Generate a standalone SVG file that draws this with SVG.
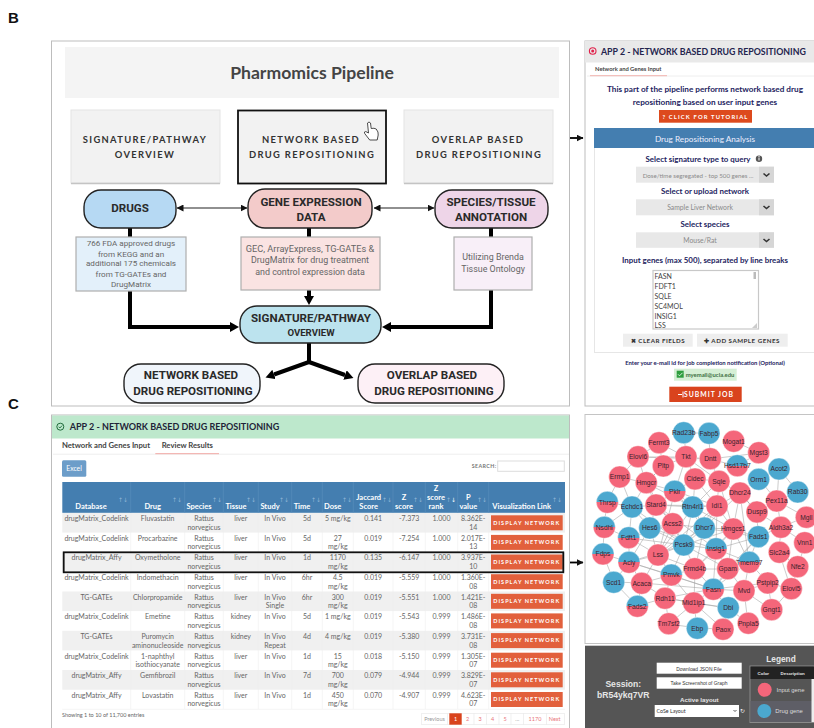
<svg xmlns="http://www.w3.org/2000/svg" width="814" height="728" viewBox="0 0 814 728">
<style>
text{font-family:"Lato","Liberation Sans",sans-serif}
.card{fill:#f2f2f2}
.ct{font-weight:700;font-size:9.400px;letter-spacing:1.350px;fill:#333;text-anchor:middle}
.pill{stroke:#222;stroke-width:1.4}
.pt{font-family:"Roboto","Liberation Sans",sans-serif;font-weight:700;font-size:11.6px;fill:#2a2a2a;text-anchor:middle}
.bx{stroke:#aeaeae;stroke-width:1.2}
.bt{font-family:"Roboto","Liberation Sans",sans-serif;font-size:8.9px;fill:#666;text-anchor:middle}
.thick{fill:none;stroke:#000;stroke-width:4}
.thin{fill:none;stroke:#222;stroke-width:1.2}
.nv{font-weight:700;fill:#23235e;text-anchor:middle}
.sel{fill:#e8e8e8}.chv{fill:#d6d6d6}
.chk{fill:none;stroke:#333;stroke-width:1.6}
.st{font-size:6.8px;fill:#8a8a8a;text-anchor:middle}
.gn{font-size:7px;fill:#444}
.btn{fill:#eee}
.bn{font-size:6.200px;font-weight:700;letter-spacing:.5px;fill:#333;text-anchor:middle}
.th{font-size:7.500px;font-weight:700;fill:#fff;text-anchor:middle}
.ar{font-size:6px;fill:#8fb4d6;font-family:"DejaVu Sans",sans-serif}
.td{font-size:7px;fill:#666;text-anchor:middle}
.dn{fill:#e2603c}
.dt{font-size:5.5px;font-weight:700;letter-spacing:1.05px;fill:#fff;text-anchor:middle}
.pg{font-size:5.5px;fill:#e8747a;text-anchor:middle}
.pb{fill:#fff;stroke:#e6e6e6;stroke-width:.6}
.e{fill:none;stroke:#a2a2a2;stroke-width:.55}
.n circle{stroke:#fff;stroke-width:.4}
.p{fill:#f4667a}.b{fill:#4ba8cf}.h{fill:url(#hh)}
.n text{font-family:"Liberation Sans",sans-serif;font-size:6.7px;fill:#3b1f2c;text-anchor:middle}
.lb{font-family:"Liberation Sans",sans-serif;font-weight:700;font-size:15px;fill:#111}
.wb{fill:#fff}
.bk{font-family:"Liberation Sans",sans-serif;font-size:4.900px;fill:#333;text-anchor:middle}
.lt{font-family:"Liberation Sans",sans-serif;font-weight:700;fill:#e6e6e6;text-anchor:middle}
.lg{font-family:"Liberation Sans",sans-serif;font-size:5.900px;fill:#ddd;text-anchor:middle}
</style>
<defs>
<linearGradient id="hh" x1="0" y1="0" x2="0" y2="1"><stop offset=".5" stop-color="#4ba8cf"/><stop offset=".5" stop-color="#f4667a"/></linearGradient>
<marker id="big" markerUnits="userSpaceOnUse" markerWidth="9" markerHeight="10" refX="0" refY="5" orient="auto"><path d="M0,0L9,5L0,10z" fill="#000"/></marker>
<marker id="sm" markerUnits="userSpaceOnUse" markerWidth="7" markerHeight="7" refX="6.500" refY="3.500" orient="auto-start-reverse"><path d="M0,0L7,3.500L0,7z" fill="#111"/></marker>
</defs>
<rect width="814" height="728" fill="#fff"/>
<text class="lb" x="8" y="23">B</text>
<text class="lb" x="8" y="409">C</text>

<g id="frame-b"><rect x="51.5" y="41" width="518" height="365" fill="#fff" stroke="#bdbdbd" stroke-width="1"/></g>
<g id="title"><rect x="65" y="47" width="494" height="51" fill="#f4f4f4"/><text x="312" y="79" text-anchor="middle" font-size="17.600" font-weight="700" fill="#444">Pharmomics Pipeline</text></g>
<g id="card-signature"><rect class="card" x="71" y="110" width="149" height="73" style="stroke:#e4e4e4;stroke-width:1"/><path d="M71,183.5H220" stroke="#c4c4c4" stroke-width="1.5"/><text class="ct" x="145" y="143">SIGNATURE/PATHWAY</text><text class="ct" x="145" y="158">OVERVIEW</text></g>
<g id="card-network"><rect class="card" x="238" y="110.5" width="148" height="73" stroke="#111" stroke-width="1.8"/><text class="ct" x="311" y="143">NETWORK BASED</text><text class="ct" x="312" y="158">DRUG REPOSITIONING</text>
<path d="M367.500,123q1.500-2 3,0l.7,5.500q3-.7 5,.5q2.500,3 2,6l-1,5h-7.500l-5-6.500q-1-2 1-2l2.800,1.500z" fill="#fff" stroke="#222" stroke-width=".8"/></g>
<g id="card-overlap"><rect class="card" x="404" y="110" width="149" height="73" style="stroke:#e4e4e4;stroke-width:1"/><path d="M404,183.500H553" stroke="#c4c4c4" stroke-width="1.500"/><text class="ct" x="478" y="143">OVERLAP BASED</text><text class="ct" x="479" y="158">DRUG REPOSITIONING</text></g>

<g id="connectors">
<path class="thin" d="M177,208H247" marker-start="url(#sm)" marker-end="url(#sm)"/>
<path class="thin" d="M374,208H434" marker-start="url(#sm)" marker-end="url(#sm)"/>
<path class="thick" d="M130,228V238M309,228V238M491,228V238"/>
<path class="thick" d="M130,291V327H230" marker-end="url(#big)"/>
<path class="thick" d="M491,290V327H391" marker-end="url(#big)"/>
<path class="thick" d="M309,290V296" marker-end="url(#big)"/>
<path class="thick" d="M309,343V362L274,374.500" marker-end="url(#big)"/>
<path class="thick" d="M309,362L345,375" marker-end="url(#big)"/>
<path d="M570,138H583" stroke="#000" stroke-width="1.800" marker-end="url(#sm)"/>
<path d="M563,562.500H583" stroke="#000" stroke-width="1.800" marker-end="url(#sm)"/>
</g>

<g id="drugs"><rect class="pill" x="84" y="190" width="92" height="38" rx="17" fill="#b6d9f3"/><text class="pt" x="130" y="212">DRUGS</text></g>
<g id="gene-expression"><rect class="pill" x="248" y="189" width="124" height="39" rx="17" fill="#f3cbca"/><text class="pt" x="311" y="206">GENE EXPRESSION</text><text class="pt" x="311" y="221">DATA</text></g>
<g id="species-tissue"><rect class="pill" x="435" y="190" width="113" height="38" rx="17" fill="#eed5e8"/><text class="pt" x="491" y="206">SPECIES/TISSUE</text><text class="pt" x="491" y="221">ANNOTATION</text></g>
<g id="drugs-note"><rect class="bx" x="76" y="237" width="110" height="54" fill="#e3f0fa"/><text class="bt" x="131" y="246" style="font-size:8.100px">766 FDA approved drugs</text><text class="bt" x="131" y="257" style="font-size:8.100px">from KEGG and an</text><text class="bt" x="131" y="266" style="font-size:8.100px">additional 175 chemicals</text><text class="bt" x="131" y="276.500" style="font-size:8.100px">from TG-GATEs and</text><text class="bt" x="131" y="287" style="font-size:8.100px">DrugMatrix</text></g>
<g id="gene-note"><rect class="bx" x="241" y="237" width="139" height="53" fill="#fae3e2"/><text class="bt" x="310" y="252" style="font-size:9.200px">GEC, ArrayExpress, TG-GATEs &amp;</text><text class="bt" x="310" y="263">DrugMatrix for drug treatment</text><text class="bt" x="310" y="275">and control expression data</text></g>
<g id="tissue-note"><rect class="bx" x="454" y="237" width="78" height="53" fill="#f8eff8"/><text class="bt" x="493" y="260">Utilizing Brenda</text><text class="bt" x="493" y="272">Tissue Ontology</text></g>
<g id="signature-pill"><rect class="pill" x="240" y="306" width="141" height="37" rx="17" fill="#bce3ee"/><text class="pt" x="311" y="322">SIGNATURE/PATHWAY</text><text class="pt" x="311" y="336" style="font-size:9.600px">OVERVIEW</text></g>
<g id="network-pill"><rect class="pill" x="124" y="364" width="136" height="39" rx="17" fill="#f0f5fb"/><text class="pt" x="191" y="379">NETWORK BASED</text><text class="pt" x="193" y="395">DRUG REPOSITIONING</text></g>
<g id="overlap-pill"><rect class="pill" x="358" y="364" width="146" height="39" rx="17" fill="#fdf0f6"/><text class="pt" x="432" y="379">OVERLAP BASED</text><text class="pt" x="434" y="395">DRUG REPOSITIONING</text></g>

<g id="app-input">
<rect x="585" y="41" width="232" height="365" fill="#fff" stroke="#bdbdbd"/>
<rect x="585" y="41" width="229" height="21.500" fill="#e9e9e9"/>
<circle cx="592.700" cy="51" r="3.300" fill="none" stroke="#e0204a" stroke-width="1.100"/><circle cx="592.700" cy="51" r="1.500" fill="#e0204a"/>
<text x="601" y="54.500" font-size="8.800" font-weight="700" fill="#24244e">APP 2 - NETWORK BASED DRUG REPOSITIONING</text>
<text x="595" y="70.500" font-size="5.800" font-weight="700" fill="#444">Network and Genes Input</text>
<path d="M587,76H814" stroke="#eee"/><path d="M590,75.700H667" stroke="#f2b3ae"/>
<text class="nv" x="705" y="92" font-size="8.200">This part of the pipeline performs network based drug</text>
<text class="nv" x="705" y="105" font-size="8.200">repositioning based on user input genes</text>
<rect x="659" y="110" width="93" height="12.700" fill="#dd4a1d"/><text x="705.500" y="119" text-anchor="middle" font-size="5.800" font-weight="700" letter-spacing="1.150" fill="#fff">? CLICK FOR TUTORIAL</text>
<rect x="594.500" y="128.500" width="225" height="224" fill="#fff" stroke="#e6e6e6"/>
<rect x="594" y="128" width="220" height="20" fill="#447eb0"/><text x="705" y="141.500" text-anchor="middle" font-size="8.200" fill="#eef">Drug Repositioning Analysis</text>
<text class="nv" x="698" y="161.700" font-size="7.900">Select signature type to query</text>
<circle cx="759" cy="158.700" r="3.200" fill="#555"/><rect x="758.500" y="157.500" width="1" height="3" fill="#fff"/><rect x="758.500" y="156" width="1" height="1" fill="#fff"/>
<rect class="sel" x="636" y="166.700" width="138" height="16"/><rect class="chv" x="759" y="166.700" width="15" height="16"/><path class="chk" d="M763.500,173.500l3,2.500l3-2.500"/>
<text class="st" x="698" y="177.500" style="font-size:6.200px">Dose/time segregated - top 500 genes ...</text>
<text class="nv" x="705" y="194" font-size="7.900">Select or upload network</text>
<rect class="sel" x="636" y="199.300" width="138" height="16"/><rect class="chv" x="759" y="199.300" width="15" height="16"/><path class="chk" d="M763.500,206l3,2.500l3-2.500"/>
<text class="st" x="700" y="210">Sample Liver Network</text>
<text class="nv" x="705" y="227" font-size="7.900">Select species</text>
<rect class="sel" x="636" y="232.300" width="138" height="15.500"/><rect class="chv" x="759" y="232.300" width="15" height="15.500"/><path class="chk" d="M763.500,239l3,2.500l3-2.500"/>
<text class="st" x="700" y="243">Mouse/Rat</text>
<text class="nv" x="705" y="262.700" font-size="7.900">Input genes (max 500), separated by line breaks</text>
<rect x="653" y="270.500" width="105.500" height="58.500" fill="#fff" stroke="#c8c8c8" stroke-width="1.200"/>
<text class="gn" x="654.500" y="278.500">FASN</text><text class="gn" x="654.500" y="288.500">FDFT1</text><text class="gn" x="654.500" y="298.500">SQLE</text><text class="gn" x="654.500" y="308.500">SC4MOL</text><text class="gn" x="654.500" y="318.500">INSIG1</text><text class="gn" x="654.500" y="328">LSS</text>
<rect x="753.500" y="272" width="2.500" height="7" fill="#bbb"/><path d="M752,328L757,323V328z" fill="#ccc"/>
<rect class="btn" x="623" y="333.700" width="69.700" height="13"/><text class="bn" x="658" y="342.500">✖ CLEAR FIELDS</text>
<rect class="btn" x="697" y="333.700" width="90.700" height="13"/><text class="bn" x="742" y="342.500">✚ ADD SAMPLE GENES</text>
<text class="nv" x="705" y="365.300" font-size="5.900">Enter your e-mail id for job completion notification (Optional)</text>
<rect x="674" y="368.700" width="62.700" height="12" fill="#d5efd5"/><rect x="676.700" y="370.700" width="7" height="7" fill="#2e9e3e"/><path d="M678,374.300l1.500,1.500l3-3" fill="none" stroke="#fff" stroke-width=".8"/>
<text x="685.700" y="376.500" font-size="5.900" font-weight="700" fill="#3f7043">myemail@ucla.edu</text>
<rect x="669.300" y="386.700" width="72.400" height="15.300" fill="#d9431d"/><path d="M678,394.500h4M683,391.500v6" stroke="#fff" stroke-width="1"/><text x="684" y="397.300" font-size="6.800" font-weight="700" letter-spacing="1" fill="#fff">SUBMIT JOB</text>
</g>

<g id="app-results">
<rect x="51.500" y="415" width="518" height="320" fill="#fff" stroke="#bdbdbd"/>
<rect x="52" y="415.500" width="517" height="23" fill="#bde8cc"/>
<circle cx="60.300" cy="426.700" r="3.500" fill="none" stroke="#1f6b3a" stroke-width="1"/><path d="M58.600,426.700l1.300,1.300l2.200-2.400" fill="none" stroke="#1f6b3a" stroke-width=".9"/>
<text x="69.700" y="429.500" font-size="9" font-weight="700" fill="#1f2438">APP 2 - NETWORK BASED DRUG REPOSITIONING</text>
<text x="62" y="448" font-size="7.700" font-weight="700" fill="#444">Network and Genes Input</text>
<text x="161.700" y="448" font-size="7.700" font-weight="700" fill="#444">Review Results</text>
<path d="M53,454.200H569" stroke="#eee"/><path d="M155.300,453.700H219" stroke="#f2a8a4"/>
<rect x="62" y="460.300" width="24.300" height="16.400" rx="1.500" fill="#6c9dc9"/><text x="74" y="471" text-anchor="middle" font-size="6.800" fill="#fff">Excel</text>
<text x="471.700" y="468" font-size="5.300" font-weight="700" letter-spacing=".4" fill="#777">SEARCH:</text>
<rect x="497.700" y="461" width="66.600" height="10.300" fill="#fff" stroke="#ddd"/>
<rect x="62.300" y="482" width="502.700" height="30.800" fill="#447eb0"/>
<path d="M130.700,482V512.800M184.700,482V512.800M223.300,482V512.800M258.300,482V512.800M291.700,482V512.800M322.300,482V512.800M353.300,482V512.800M393,482V512.800M425.300,482V512.800M457.700,482V512.800M488.700,482V512.800" stroke="#5b8fbd" stroke-width=".6"/>
<text class="th" x="91" y="509.300">Database</text><text class="th" x="152.700" y="509.300">Drug</text><text class="th" x="199" y="509.300">Species</text><text class="th" x="236" y="509.300">Tissue</text><text class="th" x="270" y="509.300">Study</text><text class="th" x="302" y="509.300">Time</text><text class="th" x="332.700" y="509.300">Dose</text>
<text class="th" x="368.700" y="499.700">Jaccard</text><text class="th" x="368.700" y="509.300">Score</text><text class="th" x="404" y="499.700">Z</text><text class="th" x="404" y="509.300">score</text><text class="th" x="436" y="491.300">Z</text><text class="th" x="436" y="499.700">score</text><text class="th" x="436" y="509.300">rank</text><text class="th" x="468.300" y="499.700">P</text><text class="th" x="468.300" y="509.300">value</text><text class="th" x="521.700" y="509.300">Visualization Link</text>
<text class="ar" x="118" y="502">↑↓</text><text class="ar" x="172" y="502">↑↓</text><text class="ar" x="212" y="502">↑↓</text><text class="ar" x="246" y="502">↑↓</text><text class="ar" x="279" y="502">↑↓</text><text class="ar" x="311" y="502">↑↓</text><text class="ar" x="342" y="502">↑↓</text><text class="ar" x="382" y="502">↑↓</text><text class="ar" x="413" y="502">↑↓</text><text class="ar" x="446" y="502"><tspan>↑</tspan><tspan fill="#fff">↓</tspan></text><text class="ar" x="477" y="502">↑↓</text><text class="ar" x="552" y="502">↑↓</text>
<g><rect x="62.300" y="513" width="502.700" height="19.600" fill="#f0f0f0"/><rect x="62.300" y="552.200" width="502.700" height="19.700" fill="#f0f0f0"/><rect x="62.300" y="591.500" width="502.700" height="19.600" fill="#f0f0f0"/><rect x="62.300" y="630.800" width="502.700" height="19.600" fill="#f0f0f0"/><rect x="62.300" y="670" width="502.700" height="19.700" fill="#f0f0f0"/><path d="M130.700,513V709M184.700,513V709M223.300,513V709M258.300,513V709M291.700,513V709M322.300,513V709M353.300,513V709M393,513V709M425.300,513V709M457.700,513V709M488.700,513V709M62.300,709.300H565" stroke="#eee" stroke-width=".6"/></g>
<g transform="translate(0,513)"><text class="td" x="96.500" y="8.300">drugMatrix_Codelink</text><text class="td" x="157.700" y="8.300">Fluvastatin</text><text class="td" x="204" y="8.300">Rattus</text><text class="td" x="204" y="16.800">norvegicus</text><text class="td" x="240.800" y="8.300">liver</text><text class="td" x="275" y="8.300">In Vivo</text><text class="td" x="307" y="8.300">5d</text><text class="td" x="337.800" y="8.300">5 mg/kg</text><text class="td" x="373.200" y="8.300">0.141</text><text class="td" x="409.200" y="8.300">-7.373</text><text class="td" x="441.500" y="8.300">1.000</text><text class="td" x="473.200" y="8.300">8.362E-</text><text class="td" x="473.200" y="16.800">14</text><rect class="dn" x="491" y="2.300" width="71.700" height="15"/><text class="dt" x="526.700" y="11.700">DISPLAY NETWORK</text></g>
<g transform="translate(0,532.600)"><text class="td" x="96.500" y="8.300">drugMatrix_Codelink</text><text class="td" x="157.700" y="8.300">Procarbazine</text><text class="td" x="204" y="8.300">Rattus</text><text class="td" x="204" y="16.800">norvegicus</text><text class="td" x="240.800" y="8.300">liver</text><text class="td" x="275" y="8.300">In Vivo</text><text class="td" x="307" y="8.300">5d</text><text class="td" x="337.800" y="8.300">27</text><text class="td" x="337.800" y="16.800">mg/kg</text><text class="td" x="373.200" y="8.300">0.019</text><text class="td" x="409.200" y="8.300">-7.254</text><text class="td" x="441.500" y="8.300">1.000</text><text class="td" x="473.200" y="8.300">2.017E-</text><text class="td" x="473.200" y="16.800">13</text><rect class="dn" x="491" y="2.300" width="71.700" height="15"/><text class="dt" x="526.700" y="11.700">DISPLAY NETWORK</text></g>
<g transform="translate(0,552.200)"><text class="td" x="96.500" y="8.300">drugMatrix_Affy</text><text class="td" x="157.700" y="8.300">Oxymetholone</text><text class="td" x="204" y="8.300">Rattus</text><text class="td" x="204" y="16.800">norvegicus</text><text class="td" x="240.800" y="8.300">liver</text><text class="td" x="275" y="8.300">In Vivo</text><text class="td" x="307" y="8.300">1d</text><text class="td" x="337.800" y="8.300">1170</text><text class="td" x="337.800" y="16.800">mg/kg</text><text class="td" x="373.200" y="8.300">0.135</text><text class="td" x="409.200" y="8.300">-6.147</text><text class="td" x="441.500" y="8.300">1.000</text><text class="td" x="473.200" y="8.300">3.937E-</text><text class="td" x="473.200" y="16.800">10</text><rect class="dn" x="491" y="2.300" width="71.700" height="15"/><text class="dt" x="526.700" y="11.700">DISPLAY NETWORK</text></g>
<g transform="translate(0,571.900)"><text class="td" x="96.500" y="8.300">drugMatrix_Codelink</text><text class="td" x="157.700" y="8.300">Indomethacin</text><text class="td" x="204" y="8.300">Rattus</text><text class="td" x="204" y="16.800">norvegicus</text><text class="td" x="240.800" y="8.300">liver</text><text class="td" x="275" y="8.300">In Vivo</text><text class="td" x="307" y="8.300">6hr</text><text class="td" x="337.800" y="8.300">4.5</text><text class="td" x="337.800" y="16.800">mg/kg</text><text class="td" x="373.200" y="8.300">0.019</text><text class="td" x="409.200" y="8.300">-5.559</text><text class="td" x="441.500" y="8.300">1.000</text><text class="td" x="473.200" y="8.300">1.360E-</text><text class="td" x="473.200" y="16.800">08</text><rect class="dn" x="491" y="2.300" width="71.700" height="15"/><text class="dt" x="526.700" y="11.700">DISPLAY NETWORK</text></g>
<g transform="translate(0,591.500)"><text class="td" x="96.500" y="8.300">TG-GATEs</text><text class="td" x="157.700" y="8.300">Chlorpropamide</text><text class="td" x="204" y="8.300">Rattus</text><text class="td" x="204" y="16.800">norvegicus</text><text class="td" x="240.800" y="8.300">liver</text><text class="td" x="275" y="8.300">In Vivo</text><text class="td" x="275" y="16.800">Single</text><text class="td" x="307" y="8.300">6hr</text><text class="td" x="337.800" y="8.300">300</text><text class="td" x="337.800" y="16.800">mg/kg</text><text class="td" x="373.200" y="8.300">0.019</text><text class="td" x="409.200" y="8.300">-5.551</text><text class="td" x="441.500" y="8.300">1.000</text><text class="td" x="473.200" y="8.300">1.421E-</text><text class="td" x="473.200" y="16.800">08</text><rect class="dn" x="491" y="2.300" width="71.700" height="15"/><text class="dt" x="526.700" y="11.700">DISPLAY NETWORK</text></g>
<g transform="translate(0,611.100)"><text class="td" x="96.500" y="8.300">drugMatrix_Codelink</text><text class="td" x="157.700" y="8.300">Emetine</text><text class="td" x="204" y="8.300">Rattus</text><text class="td" x="204" y="16.800">norvegicus</text><text class="td" x="240.800" y="8.300">kidney</text><text class="td" x="275" y="8.300">In Vivo</text><text class="td" x="307" y="8.300">5d</text><text class="td" x="337.800" y="8.300">1 mg/kg</text><text class="td" x="373.200" y="8.300">0.019</text><text class="td" x="409.200" y="8.300">-5.543</text><text class="td" x="441.500" y="8.300">0.999</text><text class="td" x="473.200" y="8.300">1.486E-</text><text class="td" x="473.200" y="16.800">08</text><rect class="dn" x="491" y="2.300" width="71.700" height="15"/><text class="dt" x="526.700" y="11.700">DISPLAY NETWORK</text></g>
<g transform="translate(0,630.800)"><text class="td" x="96.500" y="8.300">TG-GATEs</text><text class="td" x="157.700" y="8.300">Puromycin</text><text class="td" x="157.700" y="16.800">aminonucleoside</text><text class="td" x="204" y="8.300">Rattus</text><text class="td" x="204" y="16.800">norvegicus</text><text class="td" x="240.800" y="8.300">kidney</text><text class="td" x="275" y="8.300">In Vivo</text><text class="td" x="275" y="16.800">Repeat</text><text class="td" x="307" y="8.300">4d</text><text class="td" x="337.800" y="8.300">4 mg/kg</text><text class="td" x="373.200" y="8.300">0.019</text><text class="td" x="409.200" y="8.300">-5.380</text><text class="td" x="441.500" y="8.300">0.999</text><text class="td" x="473.200" y="8.300">3.731E-</text><text class="td" x="473.200" y="16.800">08</text><rect class="dn" x="491" y="2.300" width="71.700" height="15"/><text class="dt" x="526.700" y="11.700">DISPLAY NETWORK</text></g>
<g transform="translate(0,650.400)"><text class="td" x="96.500" y="8.300">drugMatrix_Codelink</text><text class="td" x="157.700" y="8.300">1-naphthyl</text><text class="td" x="157.700" y="16.800">isothiocyanate</text><text class="td" x="204" y="8.300">Rattus</text><text class="td" x="204" y="16.800">norvegicus</text><text class="td" x="240.800" y="8.300">liver</text><text class="td" x="275" y="8.300">In Vivo</text><text class="td" x="307" y="8.300">1d</text><text class="td" x="337.800" y="8.300">15</text><text class="td" x="337.800" y="16.800">mg/kg</text><text class="td" x="373.200" y="8.300">0.018</text><text class="td" x="409.200" y="8.300">-5.150</text><text class="td" x="441.500" y="8.300">0.999</text><text class="td" x="473.200" y="8.300">1.305E-</text><text class="td" x="473.200" y="16.800">07</text><rect class="dn" x="491" y="2.300" width="71.700" height="15"/><text class="dt" x="526.700" y="11.700">DISPLAY NETWORK</text></g>
<g transform="translate(0,670)"><text class="td" x="96.500" y="8.300">drugMatrix_Affy</text><text class="td" x="157.700" y="8.300">Gemfibrozil</text><text class="td" x="204" y="8.300">Rattus</text><text class="td" x="204" y="16.800">norvegicus</text><text class="td" x="240.800" y="8.300">liver</text><text class="td" x="275" y="8.300">In Vivo</text><text class="td" x="307" y="8.300">7d</text><text class="td" x="337.800" y="8.300">700</text><text class="td" x="337.800" y="16.800">mg/kg</text><text class="td" x="373.200" y="8.300">0.079</text><text class="td" x="409.200" y="8.300">-4.944</text><text class="td" x="441.500" y="8.300">0.999</text><text class="td" x="473.200" y="8.300">3.829E-</text><text class="td" x="473.200" y="16.800">07</text><rect class="dn" x="491" y="2.300" width="71.700" height="15"/><text class="dt" x="526.700" y="11.700">DISPLAY NETWORK</text></g>
<g transform="translate(0,689.700)"><text class="td" x="96.500" y="8.300">drugMatrix_Affy</text><text class="td" x="157.700" y="8.300">Lovastatin</text><text class="td" x="204" y="8.300">Rattus</text><text class="td" x="204" y="16.800">norvegicus</text><text class="td" x="240.800" y="8.300">liver</text><text class="td" x="275" y="8.300">In Vivo</text><text class="td" x="307" y="8.300">1d</text><text class="td" x="337.800" y="8.300">450</text><text class="td" x="337.800" y="16.800">mg/kg</text><text class="td" x="373.200" y="8.300">0.070</text><text class="td" x="409.200" y="8.300">-4.907</text><text class="td" x="441.500" y="8.300">0.999</text><text class="td" x="473.200" y="8.300">4.623E-</text><text class="td" x="473.200" y="16.800">07</text><rect class="dn" x="491" y="2.300" width="71.700" height="15"/><text class="dt" x="526.700" y="11.700">DISPLAY NETWORK</text></g>
<rect x="63.700" y="552.300" width="499.600" height="20" fill="none" stroke="#111" stroke-width="1.800"/>
<text x="62" y="717" font-size="5.500" fill="#666">Showing 1 to 10 of 11,700 entries</text>
<rect class="pb" x="421.700" y="713.300" width="142.600" height="11.400"/>
<rect x="449.300" y="713.300" width="12.400" height="11.400" fill="#d9431d"/>
<path d="M447.500,713.500V724.500M474,713.500V724.500M486.500,713.500V724.500M499,713.500V724.500M511,713.500V724.500M523.500,713.500V724.500M546.500,713.500V724.500" stroke="#e6e6e6" stroke-width=".6"/>
<text class="pg" x="434.500" y="721" style="fill:#999">Previous</text><text class="pg" x="455.500" y="721" style="fill:#fff">1</text><text class="pg" x="467.700" y="721">2</text><text class="pg" x="480" y="721">3</text><text class="pg" x="492.700" y="721">4</text><text class="pg" x="505" y="721">5</text><text class="pg" x="517.300" y="721" style="fill:#999">...</text><text class="pg" x="535" y="721">1170</text><text class="pg" x="554.700" y="721">Next</text>
</g>

<g id="network">
<rect x="585" y="414.500" width="232" height="229" fill="#fff" stroke="#c4c4c4"/>
<g id="network-edges"><path class="e" d="M638,457L686,457M638,457L710,459M638,457L646,483M659,443L686,457M663,466L686,457M663,466L646,483M686,457L710,459M686,457L695,479M686,457L675,491M686,457L719,481M710,459L719,481M710,459L759,453M710,459L737,466M734,441L759,453M759,453L737,466M779,469L777,501M779,469L759,479M779,469L798,492M759,479L777,501M777,501L798,492M777,501L781,527M777,501L806,517M777,501L757,512M757,512L740,493M757,512L781,527M781,527L806,517M781,527L805,543M781,527L779,552M758,537L781,527M779,552L798,567M779,552L791,589M805,543L798,567M798,567L791,589M768,583L791,589M768,583L772,610M791,589L772,610M744,591L768,583M744,591L772,610M713,589L744,591M713,589L728,608M728,608L748,623M744,591L748,623M728,608L723,629M697,628L723,629M697,628L694,603M669,624L697,628M669,624L665,598M669,624L694,603M665,598L694,603M665,598L637,606M642,583L637,606M614,582L642,583M614,582L637,606M614,582L629,562M614,582L603,554M603,554L604,527M603,554L629,562M604,527L629,538M604,527L607,502M607,502L632,507M607,502L620,477M620,477L646,483M620,477L632,507M632,507L646,483M632,507L656,505M632,507L604,527M632,507L650,528M632,507L629,538M646,483L675,491M646,483L656,505M646,483L693,507M656,505L675,491M656,505L693,507M656,505L673,524M656,505L650,528M656,505L717,506M675,491L693,507M675,491L695,479M675,491L717,506M675,491L704,528M695,479L719,481M695,479L693,507M695,479L717,506M719,481L717,506M719,481L740,493M719,481L693,507M719,481L733,529M693,507L717,506M693,507L704,528M693,507L684,545M693,507L733,529M717,506L704,528M717,506L733,529M717,506L716,549M717,506L740,493M740,493L733,529M740,493L757,512M733,529L758,537M733,529L704,528M733,529L716,549M733,529L749,562M733,529L728,569M704,528L673,524M704,528L684,545M704,528L716,549M704,528L695,569M673,524L650,528M673,524L684,545M673,524L658,555M673,524L629,538M650,528L629,538M650,528L658,555M650,528L629,562M650,528L684,545M629,538L629,562M629,538L658,555M629,538L684,545M629,562L658,555M629,562L642,583M629,562L671,575M629,562L684,545M658,555L684,545M658,555L671,575M658,555L695,569M658,555L642,583M684,545L716,549M684,545L695,569M684,545L671,575M684,545L728,569M716,549L695,569M716,549L728,569M716,549L749,562M716,549L713,589M716,549L758,537M749,562L758,537M749,562L728,569M749,562L768,583M749,562L744,591M749,562L713,589M728,569L695,569M728,569L713,589M728,569L744,591M695,569L671,575M695,569L713,589M695,569L694,603M671,575L642,583M671,575L665,598M671,575L713,589M671,575L694,603M642,583L665,598M713,589L694,603M713,589L665,598M713,589L768,583M694,603L728,608M665,598L728,608M694,603L723,629M642,583L713,589M629,562L713,589M656,505L716,549M650,528L716,549M632,507L684,545M646,483L684,545M675,491L658,555M693,507L658,555M717,506L684,545M717,506L658,555M704,528L658,555M733,529L684,545M733,529L695,569M758,537L728,569M758,537L713,589M758,537L704,528M740,493L704,528M740,493L749,562M757,512L758,537M659,443L638,457M638,457L620,477M646,483L663,466M659,443L663,466M684,433L686,457M709,433L710,459M684,433L709,433"/></g>
<g class="n" id="n-Rad23b"><circle class="b" cx="683.700" cy="432.700" r="11"/><text x="683.700" y="435">Rad23b</text></g>
<g class="n" id="n-Fabp5"><circle class="b" cx="709" cy="433.300" r="11"/><text x="709" y="435.600">Fabp5</text></g>
<g class="n" id="n-Fermt3"><circle class="p" cx="659" cy="442.700" r="11"/><text x="659" y="445">Fermt3</text></g>
<g class="n" id="n-Mogat1"><circle class="p" cx="733.700" cy="441.300" r="11"/><text x="733.700" y="443.600">Mogat1</text></g>
<g class="n" id="n-Mgst3"><circle class="p" cx="758.700" cy="452.700" r="11"/><text x="758.700" y="455">Mgst3</text></g>
<g class="n" id="n-Elovl6"><circle class="p" cx="638" cy="456.700" r="11"/><text x="638" y="459">Elovl6</text></g>
<g class="n" id="n-Tkt"><circle class="p" cx="686" cy="456.700" r="11"/><text x="686" y="459">Tkt</text></g>
<g class="n" id="n-Dntt"><circle class="p" cx="710.300" cy="458.700" r="11"/><text x="710.300" y="461">Dntt</text></g>
<g class="n" id="n-Hsd17b7"><circle class="h" cx="737.300" cy="465.700" r="11"/><text x="737.300" y="468">Hsd17b7</text></g>
<g class="n" id="n-Acot2"><circle class="b" cx="779" cy="469" r="11"/><text x="779" y="471.300">Acot2</text></g>
<g class="n" id="n-Pltp"><circle class="p" cx="663.300" cy="466" r="11"/><text x="663.300" y="468.300">Pltp</text></g>
<g class="n" id="n-Ermp1"><circle class="p" cx="619.700" cy="477" r="11"/><text x="619.700" y="479.300">Ermp1</text></g>
<g class="n" id="n-Hmgcr"><circle class="p" cx="646.300" cy="482.700" r="11"/><text x="646.300" y="485">Hmgcr</text></g>
<g class="n" id="n-Cidec"><circle class="p" cx="695" cy="479" r="11"/><text x="695" y="481.300">Cidec</text></g>
<g class="n" id="n-Sqle"><circle class="p" cx="719" cy="481.300" r="11"/><text x="719" y="483.600">Sqle</text></g>
<g class="n" id="n-Orm1"><circle class="b" cx="758.700" cy="479.300" r="11"/><text x="758.700" y="481.600">Orm1</text></g>
<g class="n" id="n-Rab30"><circle class="b" cx="797.700" cy="492" r="11"/><text x="797.700" y="494.300">Rab30</text></g>
<g class="n" id="n-Pklr"><circle class="h" cx="674.700" cy="491.300" r="11"/><text x="674.700" y="493.600">Pklr</text></g>
<g class="n" id="n-Dhcr24"><circle class="p" cx="740" cy="493" r="11"/><text x="740" y="495.300">Dhcr24</text></g>
<g class="n" id="n-Pex11a"><circle class="p" cx="776.700" cy="501" r="11"/><text x="776.700" y="503.300">Pex11a</text></g>
<g class="n" id="n-Thrsp"><circle class="h" cx="607.300" cy="502.300" r="11"/><text x="607.300" y="504.600">Thrsp</text></g>
<g class="n" id="n-Echdc1"><circle class="b" cx="632" cy="507" r="11"/><text x="632" y="509.300">Echdc1</text></g>
<g class="n" id="n-Stard4"><circle class="p" cx="656" cy="505" r="11"/><text x="656" y="507.300">Stard4</text></g>
<g class="n" id="n-Rtn4rl1"><circle class="b" cx="692.700" cy="507" r="11"/><text x="692.700" y="509.300">Rtn4rl1</text></g>
<g class="n" id="n-Idi1"><circle class="p" cx="717" cy="506" r="11"/><text x="717" y="508.300">Idi1</text></g>
<g class="n" id="n-Dusp9"><circle class="p" cx="757" cy="512" r="11"/><text x="757" y="514.300">Dusp9</text></g>
<g class="n" id="n-Mgll"><circle class="p" cx="806.300" cy="517.300" r="11"/><text x="806.300" y="519.600">Mgll</text></g>
<g class="n" id="n-Acss2"><circle class="p" cx="672.700" cy="523.700" r="11"/><text x="672.700" y="526">Acss2</text></g>
<g class="n" id="n-Nsdhl"><circle class="h" cx="604.300" cy="527.300" r="11"/><text x="604.300" y="529.600">Nsdhl</text></g>
<g class="n" id="n-Hes6"><circle class="b" cx="649.700" cy="528" r="11"/><text x="649.700" y="530.300">Hes6</text></g>
<g class="n" id="n-Dhcr7"><circle class="b" cx="704.300" cy="528" r="11"/><text x="704.300" y="530.300">Dhcr7</text></g>
<g class="n" id="n-Hmgcs1"><circle class="p" cx="733.300" cy="529" r="11"/><text x="733.300" y="531.300">Hmgcs1</text></g>
<g class="n" id="n-Aldh3a2"><circle class="p" cx="781" cy="527.300" r="11"/><text x="781" y="529.600">Aldh3a2</text></g>
<g class="n" id="n-Fdft1"><circle class="h" cx="628.700" cy="537.700" r="11"/><text x="628.700" y="540">Fdft1</text></g>
<g class="n" id="n-Fads1"><circle class="b" cx="758.300" cy="536.700" r="11"/><text x="758.300" y="539">Fads1</text></g>
<g class="n" id="n-Pcsk9"><circle class="b" cx="683.700" cy="545" r="11"/><text x="683.700" y="547.300">Pcsk9</text></g>
<g class="n" id="n-Insig1"><circle class="h" cx="716" cy="548.700" r="11"/><text x="716" y="551">Insig1</text></g>
<g class="n" id="n-Vnn1"><circle class="p" cx="804.700" cy="542.700" r="11"/><text x="804.700" y="545">Vnn1</text></g>
<g class="n" id="n-Slc2a4"><circle class="p" cx="779.300" cy="552.300" r="11"/><text x="779.300" y="554.600">Slc2a4</text></g>
<g class="n" id="n-Fdps"><circle class="h" cx="603" cy="554" r="11"/><text x="603" y="556.300">Fdps</text></g>
<g class="n" id="n-Acly"><circle class="h" cx="629" cy="562.300" r="11"/><text x="629" y="564.600">Acly</text></g>
<g class="n" id="n-Lss"><circle class="p" cx="658" cy="555" r="11"/><text x="658" y="557.300">Lss</text></g>
<g class="n" id="n-Tmem97"><circle class="h" cx="749.300" cy="562.300" r="11"/><text x="749.300" y="564.600">Tmem97</text></g>
<g class="n" id="n-Nfe2"><circle class="p" cx="797.700" cy="566.700" r="11"/><text x="797.700" y="569">Nfe2</text></g>
<g class="n" id="n-Frmd4b"><circle class="p" cx="694.700" cy="568.700" r="11"/><text x="694.700" y="571">Frmd4b</text></g>
<g class="n" id="n-Gpam"><circle class="p" cx="727.700" cy="568.700" r="11"/><text x="727.700" y="571">Gpam</text></g>
<g class="n" id="n-Pmvk"><circle class="h" cx="671.300" cy="575" r="11"/><text x="671.300" y="577.300">Pmvk</text></g>
<g class="n" id="n-Acaca"><circle class="p" cx="641.700" cy="583.300" r="11"/><text x="641.700" y="585.600">Acaca</text></g>
<g class="n" id="n-Scd1"><circle class="b" cx="613.700" cy="582.300" r="11"/><text x="613.700" y="584.600">Scd1</text></g>
<g class="n" id="n-Pstpip2"><circle class="p" cx="767.700" cy="583" r="11"/><text x="767.700" y="585.300">Pstpip2</text></g>
<g class="n" id="n-Elovl5"><circle class="p" cx="791.300" cy="588.700" r="11"/><text x="791.300" y="591">Elovl5</text></g>
<g class="n" id="n-Fasn"><circle class="h" cx="713.300" cy="589.300" r="11"/><text x="713.300" y="591.600">Fasn</text></g>
<g class="n" id="n-Mvd"><circle class="p" cx="744" cy="590.700" r="11"/><text x="744" y="593">Mvd</text></g>
<g class="n" id="n-Rdh11"><circle class="p" cx="665" cy="598.300" r="11"/><text x="665" y="600.600">Rdh11</text></g>
<g class="n" id="n-Mid1ip1"><circle class="p" cx="693.700" cy="603" r="11"/><text x="693.700" y="605.300">Mid1ip1</text></g>
<g class="n" id="n-Fads2"><circle class="h" cx="637.300" cy="606.300" r="11"/><text x="637.300" y="608.600">Fads2</text></g>
<g class="n" id="n-Dbi"><circle class="b" cx="728.300" cy="607.700" r="11"/><text x="728.300" y="610">Dbi</text></g>
<g class="n" id="n-Gngt1"><circle class="p" cx="771.700" cy="609.700" r="11"/><text x="771.700" y="612">Gngt1</text></g>
<g class="n" id="n-Tm7sf2"><circle class="p" cx="668.700" cy="623.700" r="11"/><text x="668.700" y="626">Tm7sf2</text></g>
<g class="n" id="n-Ebp"><circle class="b" cx="697.300" cy="628.300" r="11"/><text x="697.300" y="630.600">Ebp</text></g>
<g class="n" id="n-Paox"><circle class="p" cx="723" cy="629.300" r="11"/><text x="723" y="631.600">Paox</text></g>
<g class="n" id="n-Pnpla5"><circle class="p" cx="748.300" cy="623.300" r="11"/><text x="748.300" y="625.600">Pnpla5</text></g>
</g>

<g id="session-panel">
<rect x="585" y="645.700" width="229" height="82.300" fill="#555"/>
<text class="lt" x="623.300" y="686.700" font-size="8.600">Session:</text><text class="lt" x="623.300" y="697.700" font-size="8.600">bR54ykq7VR</text>
<rect class="wb" x="656.700" y="662.700" width="85" height="11"/><text class="bk" x="699" y="670.500">Download JSON File</text>
<rect class="wb" x="656.700" y="677.300" width="85" height="11.400"/><text class="bk" x="699" y="685">Take Screenshot of Graph</text>
<text class="lt" x="699.300" y="702" font-size="6.200">Active layout</text>
<rect class="wb" x="654.700" y="705" width="84.300" height="12"/><text x="656.500" y="713" font-family="Liberation Sans" font-size="5.300" fill="#333">CoSe Layout</text><path d="M733.500,710l1.500,1.500l1.500-1.500" fill="none" stroke="#333" stroke-width=".8"/>
<text x="740.300" y="713.300" font-family="DejaVu Sans" font-size="5.500" fill="#eee">↻</text>
<text class="lt" x="781" y="661.700" font-size="8.300">Legend</text>
<rect x="750" y="666" width="64" height="56.500" fill="#555" stroke="#8a8a8a"/>
<rect x="750.500" y="666.500" width="63.500" height="12.500" fill="#222"/>
<rect x="750.500" y="701" width="63.500" height="21" fill="#5e5e66"/>
<text class="lt" x="763.300" y="674.500" font-size="4.400">Color</text><text class="lt" x="792.700" y="674.500" font-size="4.400">Description</text>
<circle class="p" cx="764.700" cy="689.700" r="7"/><text class="lg" x="790.500" y="692">Input gene</text>
<circle class="b" cx="764.300" cy="711" r="7"/><text class="lg" x="789" y="713">Drug gene</text>
<rect x="811.500" y="679" width="2.500" height="43" fill="#eee"/>
</g>
</svg>
